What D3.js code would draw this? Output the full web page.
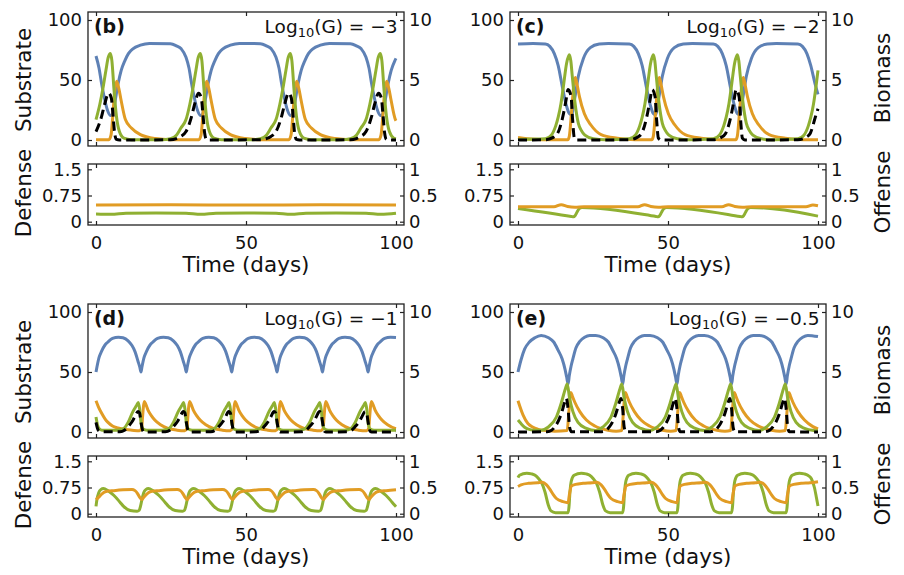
<!DOCTYPE html>
<html>
<head>
<meta charset="utf-8">
<script src="https://cdn.jsdelivr.net/npm/d3@7"></script>
<style>
  body { margin: 0; background: #fff; }
  svg { display: block; }
  text { font-family: "DejaVu Sans", Verdana, sans-serif; fill: #111; }
</style>
</head>
<body>
<div id="chart"></div>
<script>
// ---- data: [day, value] ----
// substrate (blue) is on the 0-100 axis, biomass (green, orange, black) on the 0-10 axis
var blueB = [[0,70],[1,60],[1.8,48],[2.8,35],[3.8,25],[4.8,20.5],[5.4,21],[6.2,30],[7.3,46],[8.4,58],[9.6,66],[10.8,72],[12.3,76],[14.8,79],[17.8,80.5],
  [24.8,80.3],[26.8,78.5],[28.4,76],[30,69],[31,60],[31.8,48],[32.8,35],[33.8,25],[34.8,20.5],[35.4,21],[36.2,30],[37.3,46],[38.4,58],[39.6,66],[40.8,72],[42.3,76],[44.8,79],[47.8,80.5],
  [54.8,80.3],[56.8,78.5],[58.4,76],[60,69],[61,60],[61.8,48],[62.8,35],[63.8,25],[64.8,20.5],[65.4,21],[66.2,30],[67.3,46],[68.4,58],[69.6,66],[70.8,72],[72.3,76],[74.8,79],[77.8,80.5],
  [84.8,80.3],[86.8,78.5],[88.4,76],[90,69],[91,60],[91.8,48],[92.8,35],[93.8,25],[94.8,20.5],[95.4,21],[96.2,30],[97.3,46],[98.4,58],[99.6,66],[100,68]];
var greenB = [[0,1.7],[1.3,3.0],[2.3,4.3],[3.3,5.8],[4.1,6.9],[4.8,7.2],[5.3,6.6],[6,4.2],[6.8,2.0],[7.8,0.7],[9.3,0.15],[11.8,0.02],
  [21.8,0.02],[24.8,0.1],[26.8,0.4],[28.3,1.0],[30,1.7],[31.3,3.0],[32.3,4.3],[33.3,5.8],[34.1,6.9],[34.8,7.2],[35.3,6.6],[36,4.2],[36.8,2.0],[37.8,0.7],[39.3,0.15],[41.8,0.02],
  [51.8,0.02],[54.8,0.1],[56.8,0.4],[58.3,1.0],[60,1.7],[61.3,3.0],[62.3,4.3],[63.3,5.8],[64.1,6.9],[64.8,7.2],[65.3,6.6],[66,4.2],[66.8,2.0],[67.8,0.7],[69.3,0.15],[71.8,0.02],
  [81.8,0.02],[84.8,0.1],[86.8,0.4],[88.3,1.0],[90,1.7],[91.3,3.0],[92.3,4.3],[93.3,5.8],[94.1,6.9],[94.8,7.2],[95.3,6.6],[96,4.2],[96.8,2.0],[97.8,0.7],[99.3,0.15],[100,0.1]];
var orangeB = [[0,0.03],[4.3,0.03],[5,0.4],[5.6,2.0],[6.2,4.0],[6.9,4.9],[7.6,4.3],[8.3,3.4],[9.8,1.7],[11.8,1.0],[14.8,0.45],[19.8,0.12],[24.8,0.03],
  [34.3,0.03],[35,0.4],[35.6,2.0],[36.2,4.0],[36.9,4.9],[37.6,4.3],[38.3,3.4],[39.8,1.7],[41.8,1.0],[44.8,0.45],[49.8,0.12],[54.8,0.03],
  [64.3,0.03],[65,0.4],[65.6,2.0],[66.2,4.0],[66.9,4.9],[67.6,4.3],[68.3,3.4],[69.8,1.7],[71.8,1.0],[74.8,0.45],[79.8,0.12],[84.8,0.03],
  [94.3,0.03],[95,0.4],[95.6,2.0],[96.2,4.0],[96.9,4.9],[97.6,4.3],[98.3,3.4],[99.8,1.7],[100,1.6]];
var blackB = [[0,0.7],[1.8,1.9],[2.9,3.0],[4.2,3.9],[5.1,3.5],[5.7,2.0],[6.2,0.6],[6.8,0.05],[7.8,0],
  [24.8,0.02],[26.8,0.12],[28.3,0.3],[30,0.7],[31.8,1.9],[32.9,3.0],[34.2,3.9],[35.1,3.5],[35.7,2.0],[36.2,0.6],[36.8,0.05],[37.8,0],
  [54.8,0.02],[56.8,0.12],[58.3,0.3],[60,0.7],[61.8,1.9],[62.9,3.0],[64.2,3.9],[65.1,3.5],[65.7,2.0],[66.2,0.6],[66.8,0.05],[67.8,0],
  [84.8,0.02],[86.8,0.12],[88.3,0.3],[90,0.7],[91.8,1.9],[92.9,3.0],[94.2,3.9],[95.1,3.5],[95.7,2.0],[96.2,0.6],[96.8,0.05],[97.8,0],[100,0]];
var defB = [[0,0.22],[5,0.21],[10,0.24],[20,0.25],[30,0.24],[35,0.21],[40,0.24],[50,0.25],[60,0.24],[65,0.21],[70,0.24],[80,0.25],[90,0.24],[95,0.21],[100,0.24]];
var offB = [[0,0.32],[25,0.322],[50,0.32],[75,0.322],[100,0.32]];

var blueC = [[0,80],[5,80.5],[9.1,80],[10.6,78],[12.1,72],[13.4,62],[14.8,44],[16.1,29],[17.1,22],[17.8,21],[19,36],[20.1,53],[21.8,68],[24.1,77],[27.1,80],[30.1,80.5],
  [37.1,80],[38.6,78],[40.1,72],[41.4,62],[42.8,44],[44.1,29],[45.1,22],[45.8,21],[47,36],[48.1,53],[49.8,68],[52.1,77],[55.1,80],[58.1,80.5],
  [65.1,80],[66.6,78],[68.1,72],[69.4,62],[70.8,44],[72.1,29],[73.1,22],[73.8,21],[75,36],[76.1,53],[77.8,68],[80.1,77],[83.1,80],[86.1,80.5],
  [93.3,80],[94.8,78],[96.3,72],[97.6,62],[99,47],[100,38]];
var greenC = [[0,0.05],[9.1,0.1],[11.1,0.4],[12.6,1.2],[13.4,1.9],[14.3,3.0],[15.1,4.4],[16.2,6.4],[17.1,7.1],[17.6,6.6],[18.1,5.3],[19,3.1],[20.1,1.4],[21.1,0.8],[22.3,0.4],[25.1,0.1],[29.1,0.02],
  [37.1,0.1],[39.1,0.4],[40.6,1.2],[41.4,1.9],[42.3,3.0],[43.1,4.4],[44.2,6.4],[45.1,7.1],[45.6,6.6],[46.1,5.3],[47,3.1],[48.1,1.4],[49.1,0.8],[50.3,0.4],[53.1,0.1],[57.1,0.02],
  [65.1,0.1],[67.1,0.4],[68.6,1.2],[69.4,1.9],[70.3,3.0],[71.1,4.4],[72.2,6.4],[73.1,7.1],[73.6,6.6],[74.1,5.3],[75,3.1],[76.1,1.4],[77.1,0.8],[78.3,0.4],[81.1,0.1],[85.1,0.02],
  [93.3,0.1],[95.3,0.4],[96.8,1.2],[97.6,1.9],[98.5,3.0],[99.3,4.4],[100,5.8]];
var orangeC = [[0,0.2],[3,0.1],[8,0.03],[16.6,0.02],[17.1,0.3],[17.9,2.5],[18.6,4.6],[19.1,5.2],[19.7,4.6],[20.5,3.6],[22.1,2.2],[24.3,1.25],[27.7,0.45],[33.1,0.15],[39.1,0.03],
  [44.6,0.02],[45.1,0.3],[45.9,2.5],[46.6,4.6],[47.1,5.2],[47.7,4.6],[48.5,3.6],[50.1,2.2],[52.3,1.25],[55.7,0.45],[61.1,0.15],[67.1,0.03],
  [72.6,0.02],[73.1,0.3],[73.9,2.5],[74.6,4.6],[75.1,5.2],[75.7,4.6],[76.5,3.6],[78.1,2.2],[80.3,1.25],[83.7,0.45],[89.1,0.15],[95.1,0.03],[100,0.02]];
var blackC = [[0,0],[9.1,0.02],[11.6,0.2],[13.2,0.55],[14.9,1.9],[16,3.3],[16.7,4.2],[17.7,3.6],[18.2,1.7],[18.8,0.15],[19.6,0],
  [37.1,0.02],[39.6,0.2],[41.2,0.55],[42.9,1.9],[44,3.3],[44.7,4.2],[45.7,3.6],[46.2,1.7],[46.8,0.15],[47.6,0],
  [65.1,0.02],[67.6,0.2],[69.2,0.55],[70.9,1.9],[72,3.3],[72.7,4.2],[73.7,3.6],[74.2,1.7],[74.8,0.15],[75.6,0],
  [93.3,0.02],[95.8,0.2],[97.4,0.55],[99.1,1.9],[100,2.6]];
var defC = [[0,0.38],[17.8,0.15],[18.5,0.14],[19,0.17],[19.7,0.28],[20.5,0.38],[21.3,0.41],
  [46,0.15],[46.7,0.14],[47.2,0.17],[47.9,0.28],[48.7,0.38],[49.5,0.41],
  [74,0.15],[74.7,0.14],[75.2,0.17],[75.9,0.28],[76.7,0.38],[77.5,0.41],[100,0.16]];
var offC = [[0,0.285],[12,0.285],[14.4,0.325],[16.5,0.29],[19,0.275],[22,0.285],[40,0.285],[42.2,0.325],[44.3,0.29],[46.8,0.275],[50,0.285],
  [68,0.285],[70.2,0.325],[72.3,0.29],[74.8,0.275],[78,0.285],[96,0.285],[98.3,0.32],[100,0.305]];

var blueD = [[0,50],[0.3,54],[1,62],[1.8,67],[3,72.5],[4,75],[5.5,78],[7.5,79],
  [9,78.5],[10.7,76],[12,72],[13,67],[14,59],[14.6,54],[15,50],[15.3,54],[16,62],[16.8,67],[18,72.5],[19,75],[20.5,78],[22.5,79],
  [24.1,78.5],[25.8,76],[27.1,72],[28.1,67],[29.1,59],[29.7,54],[30.1,50],[30.4,54],[31.1,62],[31.9,67],[33.1,72.5],[34.1,75],[35.6,78],[37.6,79],
  [39.25,78.5],[40.95,76],[42.25,72],[43.25,67],[44.25,59],[44.85,54],[45.25,50],[45.55,54],[46.25,62],[47.05,67],[48.25,72.5],[49.25,75],[50.75,78],[52.75,79],
  [54.35,78.5],[56.05,76],[57.35,72],[58.35,67],[59.35,59],[59.95,54],[60.35,50],[60.65,54],[61.35,62],[62.15,67],[63.35,72.5],[64.35,75],[65.85,78],[67.85,79],
  [69.5,78.5],[71.2,76],[72.5,72],[73.5,67],[74.5,59],[75.1,54],[75.5,50],[75.8,54],[76.5,62],[77.3,67],[78.5,72.5],[79.5,75],[81,78],[83,79],
  [84.7,78.5],[86.4,76],[87.7,72],[88.7,67],[89.7,59],[90.3,54],[90.7,50],[91,54],[91.7,62],[92.5,67],[93.7,72.5],[94.7,75],[96.2,78],[98.2,79],[100,78.8]];
var greenD = [[0,1.25],[0.5,0.6],[1,0.3],[2,0.15],[7,0.15],[9,0.25],[10.7,0.8],[12.3,1.7],[13.5,2.2],[14.1,2.45],[14.6,1.8],[15.1,0.6],[15.7,0.25],[17,0.15],
  [22.1,0.15],[24.1,0.25],[25.8,0.8],[27.4,1.7],[28.6,2.2],[29.2,2.45],[29.7,1.8],[30.2,0.6],[30.8,0.25],[32.1,0.15],
  [37.25,0.15],[39.25,0.25],[40.95,0.8],[42.55,1.7],[43.75,2.2],[44.35,2.45],[44.85,1.8],[45.35,0.6],[45.95,0.25],[47.25,0.15],
  [52.35,0.15],[54.35,0.25],[56.05,0.8],[57.65,1.7],[58.85,2.2],[59.45,2.45],[59.95,1.8],[60.45,0.6],[61.05,0.25],[62.35,0.15],
  [67.5,0.15],[69.5,0.25],[71.2,0.8],[72.8,1.7],[74,2.2],[74.6,2.45],[75.1,1.8],[75.6,0.6],[76.2,0.25],[77.5,0.15],
  [82.7,0.15],[84.7,0.25],[86.4,0.8],[88,1.7],[89.2,2.2],[89.8,2.45],[90.3,1.8],[90.8,0.6],[91.4,0.25],[92.7,0.15],[100,0.15]];
var orangeD = [[0,2.6],[0.8,2.1],[1.8,1.6],[3,1.1],[4,0.8],[5.5,0.5],[7.3,0.33],[10,0.2],[12,0.15],[14.5,0.1],
  [15.2,0.3],[15.5,1.2],[15.8,2.1],[16.1,2.55],[16.6,2.3],[17.3,1.85],[18.5,1.35],[19.6,1.0],[21.5,0.6],[24,0.3],[27,0.15],
  [29.6,0.1],[30.3,0.3],[30.6,1.2],[30.9,2.1],[31.2,2.55],[31.7,2.3],[32.4,1.85],[33.6,1.35],[34.7,1.0],[36.6,0.6],[39.1,0.3],[42.1,0.15],
  [44.75,0.1],[45.45,0.3],[45.75,1.2],[46.05,2.1],[46.35,2.55],[46.85,2.3],[47.55,1.85],[48.75,1.35],[49.85,1.0],[51.75,0.6],[54.25,0.3],[57.25,0.15],
  [59.85,0.1],[60.55,0.3],[60.85,1.2],[61.15,2.1],[61.45,2.55],[61.95,2.3],[62.65,1.85],[63.85,1.35],[64.95,1.0],[66.85,0.6],[69.35,0.3],[72.35,0.15],
  [75,0.1],[75.7,0.3],[76,1.2],[76.3,2.1],[76.6,2.55],[77.1,2.3],[77.8,1.85],[79,1.35],[80.1,1.0],[82,0.6],[84.5,0.3],[87.5,0.15],
  [90.2,0.1],[90.9,0.3],[91.2,1.2],[91.5,2.1],[91.8,2.55],[92.3,2.3],[93,1.85],[94.2,1.35],[95.3,1.0],[97.2,0.6],[99.7,0.3],[100,0.28]];
var blackD = [[0,0.8],[0.5,0.3],[1,0.08],[2,0.02],[8,0.02],[9.5,0.15],[10.7,0.45],[12,0.85],[12.9,1.25],[14,1.7],[14.5,1.6],[14.9,1.0],[15.3,0.4],[15.7,0.05],[16.2,0],
  [23.1,0.02],[24.6,0.15],[25.8,0.45],[27.1,0.85],[28,1.25],[29.1,1.7],[29.6,1.6],[30,1.0],[30.4,0.4],[30.8,0.05],[31.3,0],
  [38.25,0.02],[39.75,0.15],[40.95,0.45],[42.25,0.85],[43.15,1.25],[44.25,1.7],[44.75,1.6],[45.15,1.0],[45.55,0.4],[45.95,0.05],[46.45,0],
  [53.35,0.02],[54.85,0.15],[56.05,0.45],[57.35,0.85],[58.25,1.25],[59.35,1.7],[59.85,1.6],[60.25,1.0],[60.65,0.4],[61.05,0.05],[61.55,0],
  [68.5,0.02],[70,0.15],[71.2,0.45],[72.5,0.85],[73.4,1.25],[74.5,1.7],[75,1.6],[75.4,1.0],[75.8,0.4],[76.2,0.05],[76.7,0],
  [83.7,0.02],[85.2,0.15],[86.4,0.45],[87.7,0.85],[88.6,1.25],[89.7,1.7],[90.2,1.6],[90.6,1.0],[91,0.4],[91.4,0.05],[91.9,0],[100,0]];
var defD = [[0,0.21],[0.3,0.4],[0.9,0.6],[1.6,0.69],[2.5,0.72],[4,0.66],[6,0.52],[8,0.33],[9.2,0.21],[11.4,0.09],[13.7,0.07],[14.4,0.1],[14.8,0.2],
  [15.3,0.4],[15.9,0.6],[16.6,0.69],[17.5,0.72],[19,0.66],[21,0.52],[23,0.33],[24.2,0.21],[26.4,0.09],[28.8,0.07],[29.5,0.1],[29.9,0.2],
  [30.4,0.4],[31,0.6],[31.7,0.69],[32.6,0.72],[34.1,0.66],[36.1,0.52],[38.1,0.33],[39.3,0.21],[41.5,0.09],[43.95,0.07],[44.65,0.1],[45.05,0.2],
  [45.55,0.4],[46.15,0.6],[46.85,0.69],[47.75,0.72],[49.25,0.66],[51.25,0.52],[53.25,0.33],[54.45,0.21],[56.65,0.09],[59.05,0.07],[59.75,0.1],[60.15,0.2],
  [60.65,0.4],[61.25,0.6],[61.95,0.69],[62.85,0.72],[64.35,0.66],[66.35,0.52],[68.35,0.33],[69.55,0.21],[71.75,0.09],[74.2,0.07],[74.9,0.1],[75.3,0.2],
  [75.8,0.4],[76.4,0.6],[77.1,0.69],[78,0.72],[79.5,0.66],[81.5,0.52],[83.5,0.33],[84.7,0.21],[86.9,0.09],[89.4,0.07],[90.1,0.1],[90.5,0.2],
  [91,0.4],[91.6,0.6],[92.3,0.69],[93.2,0.72],[94.7,0.66],[96.7,0.52],[98.7,0.33],[99.9,0.21],[100,0.2]];
var offD = [[0,0.27],[1,0.32],[2,0.38],[3.1,0.42],[6,0.44],[9,0.455],[12,0.46],[13,0.44],[13.8,0.39],[14.6,0.31],[15.3,0.27],
  [16,0.32],[17,0.38],[18.1,0.42],[21,0.44],[24,0.455],[27.1,0.46],[28.1,0.44],[28.9,0.39],[29.7,0.31],[30.4,0.27],
  [31.1,0.32],[32.1,0.38],[33.2,0.42],[36.1,0.44],[39.1,0.455],[42.25,0.46],[43.25,0.44],[44.05,0.39],[44.85,0.31],[45.55,0.27],
  [46.25,0.32],[47.25,0.38],[48.35,0.42],[51.25,0.44],[54.25,0.455],[57.35,0.46],[58.35,0.44],[59.15,0.39],[59.95,0.31],[60.65,0.27],
  [61.35,0.32],[62.35,0.38],[63.45,0.42],[66.35,0.44],[69.35,0.455],[72.5,0.46],[73.5,0.44],[74.3,0.39],[75.1,0.31],[75.8,0.27],
  [76.5,0.32],[77.5,0.38],[78.6,0.42],[81.5,0.44],[84.5,0.455],[87.7,0.46],[88.7,0.44],[89.5,0.39],[90.3,0.31],[91,0.27],
  [91.7,0.32],[92.7,0.38],[93.8,0.42],[96.7,0.44],[100,0.455]];

var blueE = [[0,50],[1,60],[2.2,69],[3.8,75],[5.6,78.5],[7.7,80.5],[10.2,78.5],[11.9,75],[13.4,68],[14.7,61],[15.7,52],[16.2,46],[16.7,40],[17.1,47],[17.7,55],[18.3,61],[19.3,70],[20.6,75.5],[22.2,79],[23.9,80.5],
  [25.9,80.5],[28.4,78.5],[30.1,75],[31.6,68],[32.9,61],[33.9,52],[34.4,46],[34.9,40],[35.3,47],[35.9,55],[36.5,61],[37.5,70],[38.8,75.5],[40.4,79],[42.1,80.5],
  [44,80.5],[46.5,78.5],[48.2,75],[49.7,68],[51,61],[52,52],[52.5,46],[53,40],[53.4,47],[54,55],[54.6,61],[55.6,70],[56.9,75.5],[58.5,79],[60.2,80.5],
  [62.2,80.5],[64.7,78.5],[66.4,75],[67.9,68],[69.2,61],[70.2,52],[70.7,46],[71.2,40],[71.6,47],[72.2,55],[72.8,61],[73.8,70],[75.1,75.5],[76.7,79],[78.4,80.5],
  [80.4,80.5],[82.9,78.5],[84.6,75],[86.1,68],[87.4,61],[88.4,52],[88.9,46],[89.4,40],[89.8,47],[90.4,55],[91,61],[92,70],[93.3,75.5],[94.9,79],[96.6,80.5],[100,79.5]];
var greenE = [[0,1.0],[1,0.7],[2.2,0.4],[4,0.2],[5.6,0.15],[7.7,0.15],[10,0.4],[12.8,1.25],[14.4,2.4],[15.8,3.6],[16.4,4.0],[17.2,2.8],[18.3,1.7],[20,0.8],[22.8,0.3],[25.9,0.12],
  [28.2,0.4],[31,1.25],[32.6,2.4],[34,3.6],[34.6,4.0],[35.4,2.8],[36.5,1.7],[38.2,0.8],[41,0.3],[44,0.12],
  [46.3,0.4],[49.1,1.25],[50.7,2.4],[52.1,3.6],[52.7,4.0],[53.5,2.8],[54.6,1.7],[56.3,0.8],[59.1,0.3],[62.2,0.12],
  [64.5,0.4],[67.3,1.25],[68.9,2.4],[70.3,3.6],[70.9,4.0],[71.7,2.8],[72.8,1.7],[74.5,0.8],[77.3,0.3],[80.4,0.12],
  [82.7,0.4],[85.5,1.25],[87.1,2.4],[88.5,3.6],[89.1,4.0],[89.9,2.8],[91,1.7],[92.7,0.8],[95.5,0.3],[98.6,0.12],[100,0.1]];
var orangeE = [[0,2.6],[1.7,1.4],[3.3,0.7],[6.7,0.22],[10,0.1],[12.2,0.06],[16.4,0.12],[16.9,1.5],[17.3,2.8],[17.6,3.3],[18.1,3.0],[18.9,2.5],[20.6,1.7],[22.8,1.0],[25.6,0.5],[30,0.14],[32.7,0.06],
  [34.6,0.12],[35.1,1.5],[35.5,2.8],[35.8,3.3],[36.3,3.0],[37.1,2.5],[38.8,1.7],[41,1.0],[43.8,0.5],[48.2,0.14],[50.9,0.06],
  [52.7,0.12],[53.2,1.5],[53.6,2.8],[53.9,3.3],[54.4,3.0],[55.2,2.5],[56.9,1.7],[59.1,1.0],[61.9,0.5],[66.3,0.14],[69,0.06],
  [70.9,0.12],[71.4,1.5],[71.8,2.8],[72.1,3.3],[72.6,3.0],[73.4,2.5],[75.1,1.7],[77.3,1.0],[80.1,0.5],[84.5,0.14],[87.2,0.06],
  [89.1,0.12],[89.6,1.5],[90,2.8],[90.3,3.3],[90.8,3.0],[91.6,2.5],[93.3,1.7],[95.5,1.0],[98.3,0.45],[100,0.25]];
var blackE = [[0,0],[9.7,0.03],[11.2,0.15],[12.2,0.4],[14.4,1.5],[15.6,2.5],[16.1,2.8],[16.7,1.9],[17.2,0.4],[17.8,0.02],
  [27.9,0.03],[29.4,0.15],[30.4,0.4],[32.6,1.5],[33.8,2.5],[34.3,2.8],[34.9,1.9],[35.4,0.4],[36,0.02],
  [46,0.03],[47.5,0.15],[48.5,0.4],[50.7,1.5],[51.9,2.5],[52.4,2.8],[53,1.9],[53.5,0.4],[54.1,0.02],
  [64.2,0.03],[65.7,0.15],[66.7,0.4],[68.9,1.5],[70.1,2.5],[70.6,2.8],[71.2,1.9],[71.7,0.4],[72.3,0.02],
  [82.4,0.03],[83.9,0.15],[84.9,0.4],[87.1,1.5],[88.3,2.5],[88.8,2.8],[89.4,1.9],[89.9,0.4],[90.5,0.02],[100,0]];
var defE = [[0,1.03],[0.5,1.1],[2.9,1.16],[4.5,1.14],[5.7,1.1],[6.9,1.0],[7.9,0.88],[9,0.62],[10.1,0.25],[11,0.08],[12.5,0.03],[16.7,0.03],
  [17,0.2],[17.3,0.6],[17.8,0.95],[18.7,1.1],[21.1,1.16],[22.7,1.14],[23.9,1.1],[25.1,1.0],[26.1,0.88],[27.2,0.62],[28.3,0.25],[29.2,0.08],[30.7,0.03],[34.9,0.03],
  [35.2,0.2],[35.5,0.6],[36,0.95],[36.9,1.1],[39.3,1.16],[40.9,1.14],[42.1,1.1],[43.3,1.0],[44.3,0.88],[45.4,0.62],[46.5,0.25],[47.4,0.08],[48.9,0.03],[53,0.03],
  [53.3,0.2],[53.6,0.6],[54.1,0.95],[55,1.1],[57.4,1.16],[59,1.14],[60.2,1.1],[61.4,1.0],[62.4,0.88],[63.5,0.62],[64.6,0.25],[65.5,0.08],[67,0.03],[71.2,0.03],
  [71.5,0.2],[71.8,0.6],[72.3,0.95],[73.2,1.1],[75.6,1.16],[77.2,1.14],[78.4,1.1],[79.6,1.0],[80.6,0.88],[81.7,0.62],[82.8,0.25],[83.7,0.08],[85.2,0.03],[89.4,0.03],
  [89.7,0.2],[90,0.6],[90.5,0.95],[91.4,1.1],[93.8,1.16],[95.4,1.14],[96.6,1.1],[97.8,1.0],[98.8,0.75],[99.5,0.45],[100,0.22]];
var offE = [[0,0.52],[1,0.55],[3.5,0.58],[6.5,0.59],[8.1,0.6],[9.5,0.55],[10.6,0.47],[11.7,0.37],[12.8,0.29],[15,0.23],[16.7,0.21],
  [17.1,0.35],[17.8,0.53],[19.2,0.56],[21.7,0.58],[24.7,0.59],[26.3,0.6],[27.7,0.55],[28.8,0.47],[29.9,0.37],[31,0.29],[33.2,0.23],[34.9,0.21],
  [35.3,0.35],[36,0.53],[37.4,0.56],[39.9,0.58],[42.9,0.59],[44.5,0.6],[45.9,0.55],[47,0.47],[48.1,0.37],[49.2,0.29],[51.4,0.23],[53,0.21],
  [53.4,0.35],[54.1,0.53],[55.5,0.56],[58,0.58],[61,0.59],[62.6,0.6],[64,0.55],[65.1,0.47],[66.2,0.37],[67.3,0.29],[69.5,0.23],[71.2,0.21],
  [71.6,0.35],[72.3,0.53],[73.7,0.56],[76.2,0.58],[79.2,0.59],[80.8,0.6],[82.2,0.55],[83.3,0.47],[84.4,0.37],[85.5,0.29],[87.7,0.23],[89.4,0.21],
  [89.8,0.35],[90.5,0.53],[91.9,0.56],[94.4,0.58],[97.4,0.59],[100,0.61]];

// ticks / labels
var timeTicks = [0, 50, 100];
var subTicks = [0, 50, 100];
var bioTicks = [0, 5, 10];
var defTicks = [0, 0.75, 1.5];
var offTicks = [0, 0.5, 1];
var panelNames = ["(b)", "(c)", "(d)", "(e)"];
var logG = ["\u22123", "\u22122", "\u22121", "\u22120.5"];

var colors = { sub: "#5E81B5", grn: "#8FB032", org: "#E19C24", blk: "#000" };

var panels = [
  { name: panelNames[0], g: logG[0], col: 0, row: 0, sub: blueB, grn: greenB, org: orangeB, blk: blackB, def: defB, off: offB },
  { name: panelNames[1], g: logG[1], col: 1, row: 0, sub: blueC, grn: greenC, org: orangeC, blk: blackC, def: defC, off: offC },
  { name: panelNames[2], g: logG[2], col: 0, row: 1, sub: blueD, grn: greenD, org: orangeD, blk: blackD, def: defD, off: offD },
  { name: panelNames[3], g: logG[3], col: 1, row: 1, sub: blueE, grn: greenE, org: orangeE, blk: blackE, def: defE, off: offE }
];

var width = 904, height = 575;
var svg = d3.select("#chart").append("svg")
  .attr("width", width)
  .attr("height", height);

var colX = [96, 518];   // pixel of day 0
var rowY = [0, 292];    // vertical offset of each row
var tickFont = 18, titleFont = 21.5, lw = 3;

function frameTicks(g, axis) {
  g.call(axis);
  g.select(".domain").remove();
  g.selectAll(".tick line").attr("stroke", "#222").attr("stroke-width", 1.2);
  g.selectAll(".tick text").attr("font-size", tickFont).attr("fill", "#111")
    .attr("font-family", "DejaVu Sans, Verdana, sans-serif");
}

panels.forEach(function (p) {
  var dy = rowY[p.row];
  var x = d3.scaleLinear().domain([0, 100]).range([colX[p.col], colX[p.col] + 300]);
  var fx0 = x(-2.67), fx1 = x(102.67);

  // ---- top plot: substrate / biomass ----
  var ySub = d3.scaleLinear().domain([0, 100]).range([140 + dy, 20 + dy]);
  var yBio = d3.scaleLinear().domain([0, 10]).range([140 + dy, 20 + dy]);
  var top = { y0: 12 + dy, y1: 146 + dy };

  var g = svg.append("g");

  var lineSub = d3.line().x(d => x(d[0])).y(d => ySub(d[1])).curve(d3.curveMonotoneX);
  var lineBio = d3.line().x(d => x(d[0])).y(d => yBio(d[1])).curve(d3.curveMonotoneX);

  g.append("path").attr("d", lineSub(p.sub)).attr("fill", "none")
    .attr("stroke", colors.sub).attr("stroke-width", lw);
  g.append("path").attr("d", lineBio(p.org)).attr("fill", "none")
    .attr("stroke", colors.org).attr("stroke-width", lw);
  g.append("path").attr("d", lineBio(p.grn)).attr("fill", "none")
    .attr("stroke", colors.grn).attr("stroke-width", lw);
  g.append("path").attr("d", lineBio(p.blk)).attr("fill", "none")
    .attr("stroke", colors.blk).attr("stroke-width", lw)
    .attr("stroke-dasharray", "9,5");

  // frame + ticks
  g.append("rect").attr("x", fx0).attr("y", top.y0)
    .attr("width", fx1 - fx0).attr("height", top.y1 - top.y0)
    .attr("fill", "none").attr("stroke", "#222").attr("stroke-width", 1.3);
  g.append("g").attr("transform", "translate(" + fx0 + ",0)")
    .call(frameTicks, d3.axisLeft(ySub).tickValues(subTicks).tickSize(-4).tickPadding(6));
  g.append("g").attr("transform", "translate(" + fx1 + ",0)")
    .call(frameTicks, d3.axisRight(yBio).tickValues(bioTicks).tickSize(-4).tickPadding(5));
  g.append("g").attr("transform", "translate(0," + top.y0 + ")")
    .call(frameTicks, d3.axisTop(x).tickValues(timeTicks).tickSize(-4).tickFormat(""));
  g.append("g").attr("transform", "translate(0," + top.y1 + ")")
    .call(frameTicks, d3.axisBottom(x).tickValues(timeTicks).tickSize(-4).tickFormat(""));

  // panel labels
  g.append("text").attr("x", x(-0.7)).attr("y", 33 + dy)
    .attr("font-size", 19).attr("font-weight", "bold").text(p.name);
  var lab = g.append("text").attr("x", x(100.5)).attr("y", 33 + dy)
    .attr("text-anchor", "end").attr("font-size", 18.5);
  lab.append("tspan").text("Log");
  lab.append("tspan").attr("font-size", 13).attr("dy", 4).text("10");
  lab.append("tspan").attr("dy", -4).text("(G) = " + p.g);

  // ---- bottom plot: defense / offense ----
  var yDef = d3.scaleLinear().domain([0, 1.5]).range([221.7 + dy, 169.3 + dy]);
  var yOff = d3.scaleLinear().domain([0, 1]).range([221.7 + dy, 169.3 + dy]);
  var bot = { y0: 164 + dy, y1: 225 + dy };

  var lineDef = d3.line().x(d => x(d[0])).y(d => yDef(d[1])).curve(d3.curveMonotoneX);
  var lineOff = d3.line().x(d => x(d[0])).y(d => yOff(d[1])).curve(d3.curveMonotoneX);

  g.append("path").attr("d", lineDef(p.def)).attr("fill", "none")
    .attr("stroke", colors.grn).attr("stroke-width", lw);
  g.append("path").attr("d", lineOff(p.off)).attr("fill", "none")
    .attr("stroke", colors.org).attr("stroke-width", lw);

  g.append("rect").attr("x", fx0).attr("y", bot.y0)
    .attr("width", fx1 - fx0).attr("height", bot.y1 - bot.y0)
    .attr("fill", "none").attr("stroke", "#222").attr("stroke-width", 1.3);
  g.append("g").attr("transform", "translate(" + fx0 + ",0)")
    .call(frameTicks, d3.axisLeft(yDef).tickValues(defTicks).tickSize(-4).tickPadding(6)
      .tickFormat(d => d === 0.75 ? "0.75" : d3.format("~g")(d)));
  g.append("g").attr("transform", "translate(" + fx1 + ",0)")
    .call(frameTicks, d3.axisRight(yOff).tickValues(offTicks).tickSize(-4).tickPadding(5)
      .tickFormat(d3.format("~g")));
  g.append("g").attr("transform", "translate(0," + bot.y0 + ")")
    .call(frameTicks, d3.axisTop(x).tickValues(timeTicks).tickSize(-4).tickFormat(""));
  g.append("g").attr("transform", "translate(0," + bot.y1 + ")")
    .call(frameTicks, d3.axisBottom(x).tickValues(timeTicks).tickSize(-4).tickPadding(11));

  g.append("text").attr("x", x(50)).attr("y", 272 + dy)
    .attr("text-anchor", "middle").attr("font-size", titleFont).text("Time (days)");

  // axis titles on the outer sides only
  if (p.col === 0) {
    g.append("text").attr("transform", "translate(31," + (80 + dy) + ") rotate(-90)")
      .attr("text-anchor", "middle").attr("font-size", titleFont).text("Substrate");
    g.append("text").attr("transform", "translate(31," + (193 + dy) + ") rotate(-90)")
      .attr("text-anchor", "middle").attr("font-size", titleFont).text("Defense");
  } else {
    g.append("text").attr("transform", "translate(890," + (78 + dy) + ") rotate(-90)")
      .attr("text-anchor", "middle").attr("font-size", titleFont).text("Biomass");
    g.append("text").attr("transform", "translate(890," + (192 + dy) + ") rotate(-90)")
      .attr("text-anchor", "middle").attr("font-size", titleFont).text("Offense");
  }
});
</script>
</body>
</html>
